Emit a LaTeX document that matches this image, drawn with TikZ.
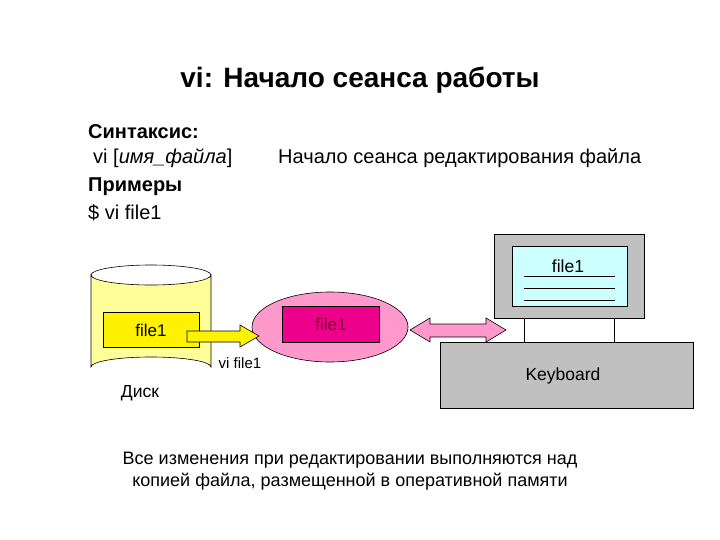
\documentclass[tikz,border=0pt]{standalone}
\usepackage{fontspec}
\setmainfont{Liberation Sans}
\usetikzlibrary{shapes.geometric}
\definecolor{lpink}{RGB}{255,153,204}
\definecolor{lyel}{RGB}{255,255,153}
\definecolor{scrc}{RGB}{204,255,255}
\definecolor{kgray}{RGB}{192,192,192}
\begin{document}
\begin{tikzpicture}[x=1pt,y=-1pt,
  txt/.style={anchor=west,inner sep=0pt,font=\fontsize{20}{24}\selectfont},
  lbl/.style={inner sep=0pt,font=\fontsize{17.5}{21}\selectfont},
  box/.style={draw=black,line width=0.6pt}]
\useasboundingbox (0,0) rectangle (720,540);
\node[inner sep=0pt,font=\bfseries\fontsize{28}{32}\selectfont] (title) at (360,80) {vi: Начало сеанса работы};
\node[txt,font=\bfseries\fontsize{20}{24}\selectfont] (syn) at (88,132) {Синтаксис:};
\node[txt] (vi) at (93,158) {vi [\textit{имя\_файла}]};
\node[txt] (desc) at (278,158) {Начало сеанса редактирования файла};
\node[txt,font=\bfseries\fontsize{20}{24}\selectfont] (ex) at (88,187) {Примеры};
\node[txt] (cmd) at (88,213) {\$ vi file1};
% cylinder
\path[box,fill=lyel] (91,275) -- (91,367) arc[start angle=180,end angle=360,x radius=60,y radius=10] -- (211,275) arc[start angle=0,end angle=180,x radius=60,y radius=10] -- cycle;
\draw[box] (91,275) arc[start angle=180,end angle=360,x radius=60,y radius=10];
\node[box,fill=yellow,minimum width=96,minimum height=35,inner sep=0pt,font=\fontsize{17}{20}\selectfont] (f1) at (151,330) {file1};
\node[lbl] (disk) at (140,393) {Диск};
% memory
\node[ellipse,box,fill=lpink,minimum width=156,minimum height=70,inner sep=0pt] (mem) at (330,327) {};
\node[box,fill=magenta,minimum width=97,minimum height=36,inner sep=0pt,font=\fontsize{17}{20}\selectfont,text=purple!60!black] (f2) at (331,324) {file1};
% yellow arrow
\draw[box,fill=yellow] (187,331) -- (240,331) -- (240,325) -- (259,336) -- (240,347) -- (240,342) -- (187,342) -- cycle;
\node[lbl,font=\fontsize{15}{18}\selectfont] (vil) at (240,363) {vi file1};
% pink double arrow
\draw[box,fill=lpink] (410,330) -- (430,318) -- (430,324) -- (486,324) -- (486,318) -- (506,330) -- (486,342) -- (486,337) -- (430,337) -- (430,342) -- cycle;
% monitor
\node[box,fill=kgray,minimum width=150,minimum height=84,inner sep=0pt] (mon) at (569,276) {};
\node[box,fill=scrc,minimum width=115,minimum height=60,inner sep=0pt] (scr) at (569.5,276) {};
\node[lbl] (f3) at (568,266) {file1};
\coordinate (l1a) at (524,276); \coordinate (l1b) at (615,276);
\coordinate (l2a) at (524,288); \coordinate (l2b) at (615,288);
\coordinate (l3a) at (524,300); \coordinate (l3b) at (615,300);
\draw[line width=0.6pt] (l1a)--(l1b) (l2a)--(l2b) (l3a)--(l3b);
\node[box,fill=kgray,minimum width=253,minimum height=66,inner sep=0pt] (kb) at (566.5,375) {};
\node[lbl] (kbt) at (563,376) {Keyboard};
\draw[line width=0.6pt] (524,318) -- (524,342) (614,318) -- (614,342);
% bottom
\node[inner sep=0pt,align=center,font=\fontsize{18}{22}\selectfont] (note) at (350,471) {Все изменения при редактировании выполняются над\\копией файла, размещенной в оперативной памяти};
\end{tikzpicture}
\end{document}
